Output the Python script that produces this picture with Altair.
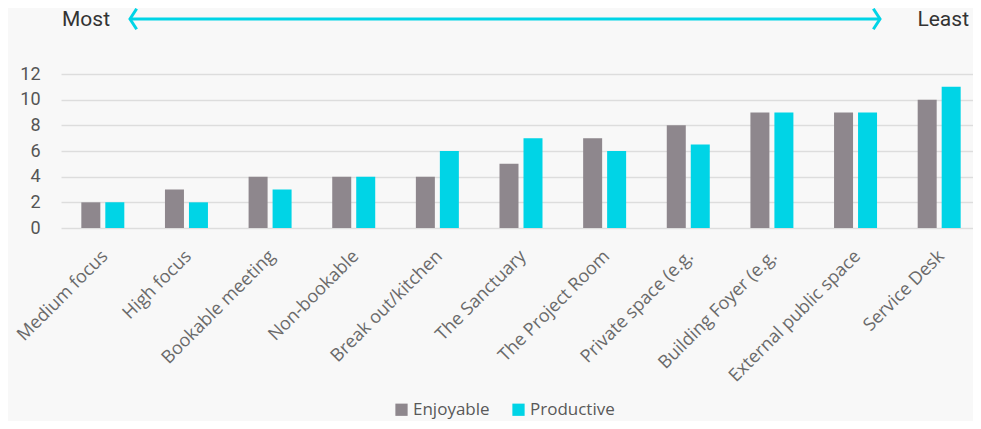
import altair as alt
import pandas as pd

categories = ["Medium focus", "High focus", "Bookable meeting", "Non-bookable",
              "Break out/kitchen", "The Sanctuary", "The Project Room",
              "Private space (e.g.", "Building Foyer (e.g.", "External public space",
              "Service Desk"]
enjoyable = [2, 3, 4, 4, 4, 5, 7, 8, 9, 9, 10]
productive = [2, 2, 3, 4, 6, 7, 6, 6.5, 9, 9, 11]
series = ["Enjoyable", "Productive"]
colors = ["#8e878d", "#00d4e6"]
y_ticks = [0, 2, 4, 6, 8, 10, 12]

rows = []
for c, e, p in zip(categories, enjoyable, productive):
    rows.append({"space": c, "measure": "Enjoyable", "value": e})
    rows.append({"space": c, "measure": "Productive", "value": p})
df = pd.DataFrame(rows)

bars = alt.Chart(df).mark_bar().encode(
    x=alt.X("space:N", sort=categories, title=None,
            scale=alt.Scale(range=[1, 921], paddingInner=0.486, paddingOuter=0.243),
            axis=alt.Axis(labelAngle=-45, labelFont="Open Sans", labelFontSize=18,
                          labelColor="#6a6a6a", labelPadding=19, labelOffset=-4,
                          ticks=False, tickSize=0,
                          domain=False, grid=False, labelOverlap=False)),
    xOffset=alt.XOffset("measure:N", sort=series,
                        scale=alt.Scale(paddingInner=0.208, paddingOuter=0)),
    y=alt.Y("value:Q", title=None,
            scale=alt.Scale(domain=[0, 12], nice=False),
            axis=alt.Axis(values=y_ticks, labelFont="Roboto", labelFontSize=18,
                          labelColor="#555555", ticks=False, tickSize=0, labelPadding=20,
                          labelAlign="right", labelBaseline="middle", offset=0,
                          domain=False, gridColor="#dddddd", gridWidth=1.5)),
    color=alt.Color("measure:N", sort=series,
                    scale=alt.Scale(domain=series, range=colors),
                    legend=alt.Legend(title=None, orient="none", direction="horizontal",
                                      legendX=333, legendY=327, symbolType="square",
                                      symbolSize=150, symbolStrokeWidth=0,
                                      labelFont="Open Sans", labelFontSize=17,
                                      labelColor="#595959", columnPadding=20,
                                      labelOffset=3)),
)

ann = pd.DataFrame({"k": [0]})
arrow_color = "#00d4e6"

line = alt.Chart(ann).mark_rule(color=arrow_color, strokeWidth=3).encode(
    x=alt.value(71), x2=alt.value(819), y=alt.value(-55))
left_head = alt.Chart(ann).mark_point(
    shape="M0.65,-1L0,0L0.65,1", size=420, filled=False, stroke=arrow_color,
    strokeWidth=3, opacity=1).encode(x=alt.value(70), y=alt.value(-55))
right_head = alt.Chart(ann).mark_point(
    shape="M-0.65,-1L0,0L-0.65,1", size=420, filled=False, stroke=arrow_color,
    strokeWidth=3, opacity=1).encode(x=alt.value(820), y=alt.value(-55))
most = alt.Chart(ann).mark_text(
    text="Most", align="left", baseline="middle", font="Roboto", fontSize=21,
    color="#333333").encode(x=alt.value(2), y=alt.value(-54))
least = alt.Chart(ann).mark_text(
    text="Least", align="right", baseline="middle", font="Roboto", fontSize=21,
    color="#333333").encode(x=alt.value(909), y=alt.value(-54))

chart = alt.layer(bars, line, left_head, right_head, most, least).properties(
    width=913, height=154,
    padding={"left": 52, "top": 66, "right": 0, "bottom": 193},
    autosize=alt.AutoSizeParams(type="none"),
    background="#f8f8f8",
).configure_view(stroke=None)

chart.save("out.html", embed_options={"renderer": "svg", "actions": False})
